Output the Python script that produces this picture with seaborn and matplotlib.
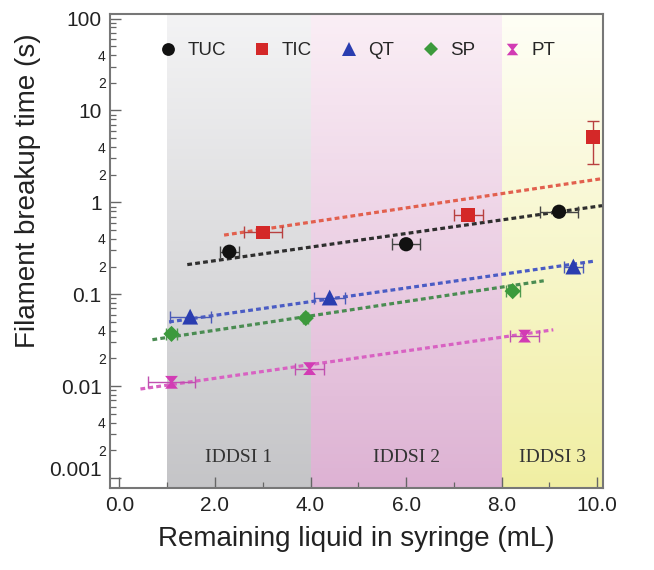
import numpy as np
import pandas as pd
import matplotlib
matplotlib.use("Agg")
import matplotlib.pyplot as plt
import matplotlib.colors as mcolors
from matplotlib.transforms import ScaledTranslation
from matplotlib.ticker import FixedLocator, FuncFormatter, MultipleLocator
import seaborn as sns

# ---- measured data -------------------------------------------------------
series = ["TUC", "TIC", "QT", "SP", "PT"]

tuc_x = [2.3, 6.0, 9.2]
tuc_y = [0.29, 0.35, 0.79]
tuc_xerr = [0.2, 0.3, 0.4]

tic_x = [3.0, 7.3, 9.92]
tic_y = [0.47, 0.73, 5.1]
tic_xerr = [0.4, 0.3, 0.0]
tic_ylow = [0.47, 0.73, 2.6]
tic_yhigh = [0.47, 0.73, 7.7]

qt_x = [1.48, 4.4, 9.5]
qt_y = [0.057, 0.092, 0.20]
qt_xerr = [0.43, 0.33, 0.2]

sp_x = [1.09, 3.9, 8.23]
sp_y = [0.037, 0.055, 0.108]
sp_xerr = [0.12, 0.05, 0.15]

pt_x = [1.09, 3.98, 8.48]
pt_y = [0.011, 0.0155, 0.035]
pt_xerr = [0.5, 0.3, 0.3]

# exponential trend lines (start / end of each fit)
fit_x0 = [1.42, 2.19, 1.04, 0.69, 0.44]
fit_x1 = [10.1, 10.1, 9.96, 8.88, 9.08]
fit_y0 = [0.21, 0.44, 0.050, 0.032, 0.0093]
fit_y1 = [0.92, 1.81, 0.23, 0.14, 0.041]

# IDDSI consistency levels along the x axis
zone_labels = ["IDDSI 1", "IDDSI 2", "IDDSI 3"]
zone_start = [1.0, 4.0, 8.0]
zone_end = [4.0, 8.0, 10.12]

xticks = [0.0, 2.0, 4.0, 6.0, 8.0, 10.0]
yticks = [0.001, 0.01, 0.1, 1, 10, 100]

# ---- styling ---------------------------------------------------------------
marker_color = {"TUC": "#111111", "TIC": "#d42828", "QT": "#2a3db0",
                "SP": "#3c9a3c", "PT": "#d23cb4"}
err_color = {"TUC": "#444444", "TIC": "#b84040", "QT": "#4a5ab8",
             "SP": "#4f9a4f", "PT": "#c050b0"}
line_color = {"TUC": "#2e2e2e", "TIC": "#e2604e", "QT": "#4a5cc4",
              "SP": "#4a8c52", "PT": "#d862c2"}
hourglass = [(-1, 1), (1, 1), (0.18, 0), (1, -1), (-1, -1), (-0.18, 0), (-1, 1)]
marker_shape = {"TUC": "o", "TIC": "s", "QT": "^", "SP": "D", "PT": hourglass}
marker_size = {"TUC": 105, "TIC": 100, "QT": 130, "SP": 68, "PT": 85}

zone_bottom = ["#c4c4c7", "#ddb2d3", "#f0eea2"]
zone_top = ["#f3f3f4", "#faeef5", "#fefef6"]

sns.set_theme(style="ticks")
plt.rcParams["font.family"] = ["Liberation Sans", "DejaVu Sans"]

fig = plt.figure(figsize=(6.54, 5.70), dpi=100)
ax = fig.add_axes([0.168, 0.144, 0.754, 0.832])
ax.set_yscale("log")
ax.set_xlim(-0.2, 10.12)
ax.set_ylim(0.00078, 113)

# vertical colour gradients for the IDDSI bands
n_steps = 140
for lab, x0, x1, cb, ct in zip(zone_labels, zone_start, zone_end, zone_bottom, zone_top):
    cb = np.array(mcolors.to_rgb(cb))
    ct = np.array(mcolors.to_rgb(ct))
    for i in range(n_steps):
        f = (i + 0.5) / n_steps
        col = cb + (ct - cb) * f
        ax.axvspan(x0, x1, ymin=i / n_steps, ymax=(i + 1.02) / n_steps,
                   facecolor=col, edgecolor="none", lw=0, zorder=0)
    ax.text((x0 + x1) / 2, 0.065, lab, transform=ax.get_xaxis_transform(),
            ha="center", va="center", fontsize=14, color="#333333",
            family=["Liberation Serif", "DejaVu Serif"], zorder=2)

# trend lines
for s, x0, x1, y0, y1 in zip(series, fit_x0, fit_x1, fit_y0, fit_y1):
    ax.plot([x0, x1], [y0, y1], linestyle=(0, (1.5, 1.0)), lw=2.3,
            color=line_color[s], zorder=3)

# horizontal error bars
xs = [tuc_x, tic_x, qt_x, sp_x, pt_x]
ys = [tuc_y, tic_y, qt_y, sp_y, pt_y]
xerrs = [tuc_xerr, tic_xerr, qt_xerr, sp_xerr, pt_xerr]
for s, x, y, xe in zip(series, xs, ys, xerrs):
    ax.errorbar(x, y, xerr=xe, fmt="none", ecolor=err_color[s], elinewidth=1.0,
                capsize=4, capthick=1.0, zorder=4)

# vertical error bar on the TIC series
tic_lo = np.array(tic_y) - np.array(tic_ylow)
tic_hi = np.array(tic_yhigh) - np.array(tic_y)
ax.errorbar(tic_x, tic_y, yerr=[tic_lo, tic_hi], fmt="none",
            ecolor=err_color["TIC"], elinewidth=1.0, capsize=4, capthick=1.0, zorder=4)

# markers
df = pd.DataFrame({
    "x": sum(xs, []),
    "y": sum(ys, []),
    "series": sum([[s] * len(x) for s, x in zip(series, xs)], []),
})
sns.scatterplot(data=df, x="x", y="y", hue="series", style="series", size="series",
                hue_order=series, style_order=series, size_order=series,
                palette=marker_color, markers=marker_shape, sizes=marker_size,
                edgecolor="none", linewidth=0, ax=ax, zorder=5, legend=True)

handles, labels = ax.get_legend_handles_labels()
ax.legend(handles, labels, ncol=5, loc="center", bbox_to_anchor=(0.502, 0.922),
          frameon=False, fontsize=13.5, handlelength=0.9, handletextpad=0.6,
          columnspacing=1.5, markerscale=0.9, borderaxespad=0)

# axes, ticks, labels
ax.xaxis.set_major_locator(FixedLocator(xticks))
ax.xaxis.set_minor_locator(MultipleLocator(1.0))
ax.xaxis.set_major_formatter(FuncFormatter(lambda v, p: f"{v:.1f}"))

minor_y = [m * 10.0 ** e for e in range(-3, 2) for m in range(2, 10)]
ax.yaxis.set_major_locator(FixedLocator(yticks))
ax.yaxis.set_minor_locator(FixedLocator(minor_y))
ax.yaxis.set_major_formatter(FuncFormatter(lambda v, p: f"{v:g}"))


def minor_label(v, p):
    m = v / 10.0 ** np.floor(np.log10(v) + 1e-9)
    return f"{m:.0f}" if round(m) in (2, 4) else ""


ax.yaxis.set_minor_formatter(FuncFormatter(minor_label))

ax.tick_params(axis="both", which="major", direction="in", length=8, width=1.0,
               color="#666666", labelsize=15, labelcolor="#222222", pad=6)
ax.tick_params(axis="both", which="minor", direction="in", length=4, width=0.9,
               color="#666666")
ax.tick_params(axis="y", which="minor", labelsize=10, labelcolor="#222222", pad=3)
ax.tick_params(axis="x", which="minor", labelbottom=False)

for sp in ax.spines.values():
    sp.set_color("#777777")
    sp.set_linewidth(1.5)
    sp.set_visible(True)

ax.set_xlabel("Remaining liquid in syringe (mL)", fontsize=20, color="#222222", labelpad=8)
ax.set_ylabel("Filament breakup time (s)", fontsize=20, color="#222222")
ax.yaxis.set_label_coords(-0.14, 0.627)

# lift the lowest decade label slightly above its tick
fig.canvas.draw()
for tick in ax.yaxis.get_major_ticks():
    if abs(tick.get_loc() - 0.001) < 1e-9:
        lbl = tick.label1
        lbl.set_transform(lbl.get_transform()
                          + ScaledTranslation(0, 7 / 72, fig.dpi_scale_trans))

fig.savefig("out.png", dpi=100)
